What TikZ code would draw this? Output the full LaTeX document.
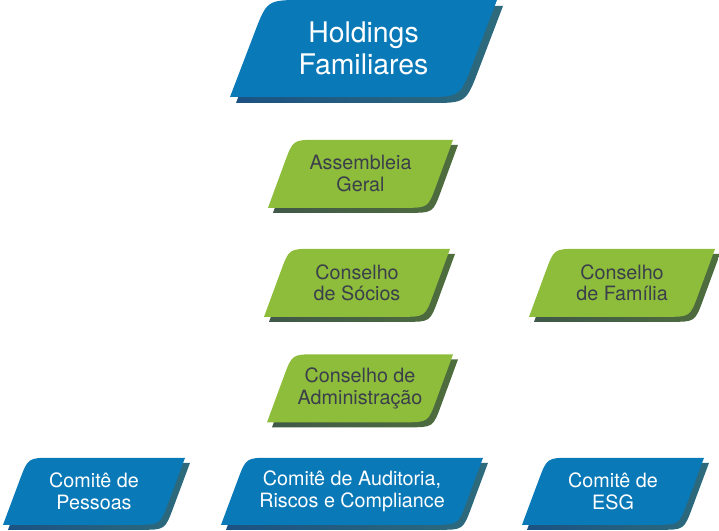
\documentclass[tikz,border=0pt]{standalone}
\usepackage{fontspec}
\setmainfont{TeX Gyre Heros}
\usetikzlibrary{calc, positioning, backgrounds}

\definecolor{holdblue}{HTML}{0A79B8}
\definecolor{holddark}{HTML}{1B5283}
\definecolor{holdteal}{HTML}{2E6B7C}
\definecolor{leafgreen}{HTML}{8DBD3B}
\definecolor{leafdark}{HTML}{3F5849}
\definecolor{leafmoss}{HTML}{4F6E3D}
\definecolor{inkgrey}{HTML}{3B3E4B}

\tikzset{
  bluebody/.style={fill=holdblue},
  blueshadow/.style={left color=holddark, right color=holdteal},
  greenbody/.style={fill=leafgreen},
  greenshadow/.style={left color=leafdark, right color=leafmoss},
  headtext/.style={text=white, align=center, font=\fontsize{21.3}{23.5}\selectfont},
  bluetext/.style={text=white, align=center, font=\fontsize{14.8}{16.4}\selectfont},
  greentext/.style={text=inkgrey, align=center, font=\fontsize{14.8}{16.4}\selectfont}
}

\newcommand{\slabpath}[7]{%
  \path (#1.center) ++({-(#2+#4)/2+#6},{#3/2+#6}) coordinate (bl)
        (#1.center) ++({-(#2+#4)/2+#4+#6},{-#3/2+#6}) coordinate (tl)
        (#1.center) ++({(#2+#4)/2+#6},{-#3/2+#6}) coordinate (tr)
        (#1.center) ++({(#2+#4)/2-#4+#6},{#3/2+#6}) coordinate (br);
  \path[#7] (bl) -- ($(tl)!#5!(bl)$) .. controls (tl) .. ($(tl)!#5!(tr)$)
    -- (tr) -- ($(br)!#5!(tr)$) .. controls (br) .. ($(br)!#5!(bl)$) -- cycle;}
\newcommand{\slab}[7]{%
  \slabpath{#1}{#2}{#3}{#4}{#5}{#6}{#7shadow}
  \slabpath{#1}{#2}{#3}{#4}{#5}{0}{#7body}}

\begin{document}
\begin{tikzpicture}[x=0.75pt, y=-0.75pt]
  \useasboundingbox (0,0) rectangle (719,531);

  \node[headtext] (hold) at (363.5,48.5) {Holdings\\Familiares};
  \node[greentext, node distance=94pt, below of=hold, xshift=-2.25pt] (assemb) {Assembleia\\Geral};
  \node[greentext, node distance=81.75pt, below of=assemb, xshift=-2.6pt] (socios) {Conselho\\de Sócios};
  \node[greentext, node distance=198.75pt, right of=socios] (familia) {Conselho\\de Família};
  \node[greentext, node distance=79.1pt, below of=socios, xshift=2.25pt] (admin) {Conselho de\\Administração};
  \node[bluetext, node distance=77.25pt, below of=admin, xshift=-6pt] (audit) {Comitê de Auditoria,\\Riscos e Compliance};
  \node[bluetext, node distance=193.5pt, left of=audit] (pessoas) {Comitê de\\Pessoas};
  \node[bluetext, node distance=195.75pt, right of=audit] (esg) {Comitê de\\ESG};

  \begin{scope}[on background layer]
    \slab{hold}{230}{97}{37}{27pt}{6}{blue}
    \slab{assemb}{160}{68}{25}{18pt}{5}{green}
    \slab{socios}{161}{68}{25}{18pt}{5}{green}
    \slab{familia}{161}{68}{25}{18pt}{5}{green}
    \slab{admin}{161}{68}{25}{18pt}{5}{green}
    \slab{audit}{237}{67}{25}{18pt}{5}{blue}
    \slab{pessoas}{157}{67}{25}{18pt}{5}{blue}
    \slab{esg}{157}{67}{25}{18pt}{5}{blue}
  \end{scope}
\end{tikzpicture}
\end{document}
